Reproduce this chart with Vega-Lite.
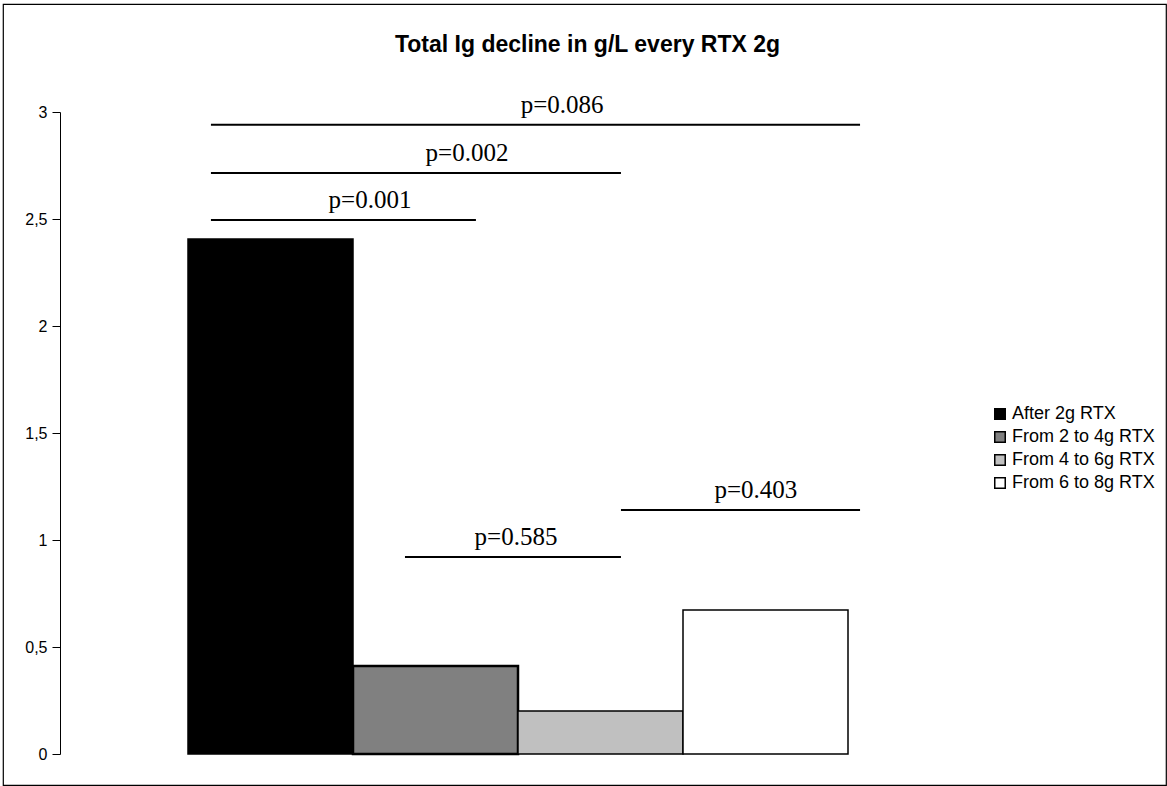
{
  "$schema": "https://vega.github.io/schema/vega-lite/v6.json",
  "autosize": {"type": "none"},
  "padding": {"left": 3, "top": 4, "right": 1, "bottom": 1},
  "width": 1163,
  "height": 781,
  "background": "white",
  "title": {
    "text": "Total Ig decline in g/L every RTX 2g",
    "font": "Liberation Sans",
    "fontSize": 23,
    "fontWeight": "bold",
    "color": "black",
    "anchor": "middle",
    "frame": "group",
    "offset": -53,
    "dx": 3
  },
  "config": {
    "view": {"stroke": "black", "strokeWidth": 1.2},
    "axis": {"grid": false}
  },
  "datasets": {
    "bars": [
      {"series": "After 2g RTX", "value": 2.407, "start": 0, "end": 1},
      {"series": "From 2 to 4g RTX", "value": 0.411, "start": 1, "end": 2},
      {"series": "From 4 to 6g RTX", "value": 0.201, "start": 2, "end": 3},
      {"series": "From 6 to 8g RTX", "value": 0.673, "start": 3, "end": 4}
    ],
    "tests": [
      {"label": "p=0.001", "level": 2.495, "from": 0.139, "to": 1.745, "label_pos": 1.103},
      {"label": "p=0.002", "level": 2.715, "from": 0.139, "to": 2.624, "label_pos": 1.691},
      {"label": "p=0.086", "level": 2.94, "from": 0.139, "to": 4.073, "label_pos": 2.267},
      {"label": "p=0.585", "level": 0.92, "from": 1.315, "to": 2.624, "label_pos": 1.988},
      {"label": "p=0.403", "level": 1.14, "from": 2.624, "to": 4.073, "label_pos": 3.442}
    ]
  },
  "layer": [
    {
      "data": {"name": "bars"},
      "mark": {"type": "rect", "stroke": "black"},
      "encoding": {
        "x": {"field": "start", "type": "quantitative", "scale": {"domain": [0, 4], "range": [185, 845], "nice": false, "zero": false}, "axis": null},
        "x2": {"field": "end"},
        "y": {"field": "value", "type": "quantitative", "scale": {"domain": [0, 3], "range": [750, 108], "nice": false},
          "axis": {
            "values": [0, 0.5, 1, 1.5, 2, 2.5, 3],
            "title": null,
            "offset": -57,
            "domainColor": "black",
            "domainWidth": 1,
            "tickColor": "black",
            "tickSize": 8,
            "labelFont": "Liberation Sans",
            "labelFontSize": 16,
            "labelColor": "black",
            "labelPadding": 5,
            "labelExpr": "replace(toString(datum.value), '.', ',')"
          }
        },
        "y2": {"datum": 0},
        "fill": {
          "field": "series", "type": "nominal",
          "scale": {"domain": ["After 2g RTX", "From 2 to 4g RTX", "From 4 to 6g RTX", "From 6 to 8g RTX"], "range": ["#000000", "#808080", "#c0c0c0", "#ffffff"]},
          "legend": {
            "title": null,
            "orient": "none",
            "legendX": 988,
            "legendY": 401,
            "padding": 0,
            "symbolType": "square",
            "symbolSize": 110,
            "symbolStrokeColor": "black",
            "symbolStrokeWidth": 1.5,
            "labelFont": "Liberation Sans",
            "labelFontSize": 18,
            "labelColor": "black",
            "labelOffset": 3,
            "rowPadding": 5
          }
        },
        "strokeWidth": {"condition": {"test": "datum.series === 'From 2 to 4g RTX'", "value": 2.5}, "value": 1.5}
      }
    },
    {
      "data": {"name": "tests"},
      "mark": {"type": "rule", "color": "black", "strokeWidth": 2},
      "encoding": {
        "x": {"field": "from", "type": "quantitative"},
        "x2": {"field": "to"},
        "y": {"field": "level", "type": "quantitative"}
      }
    },
    {
      "data": {"name": "tests"},
      "mark": {"type": "text", "font": "Liberation Serif", "fontSize": 25, "color": "black", "dy": -12, "baseline": "alphabetic", "align": "center"},
      "encoding": {
        "x": {"field": "label_pos", "type": "quantitative"},
        "y": {"field": "level", "type": "quantitative"},
        "text": {"field": "label"}
      }
    }
  ]
}
